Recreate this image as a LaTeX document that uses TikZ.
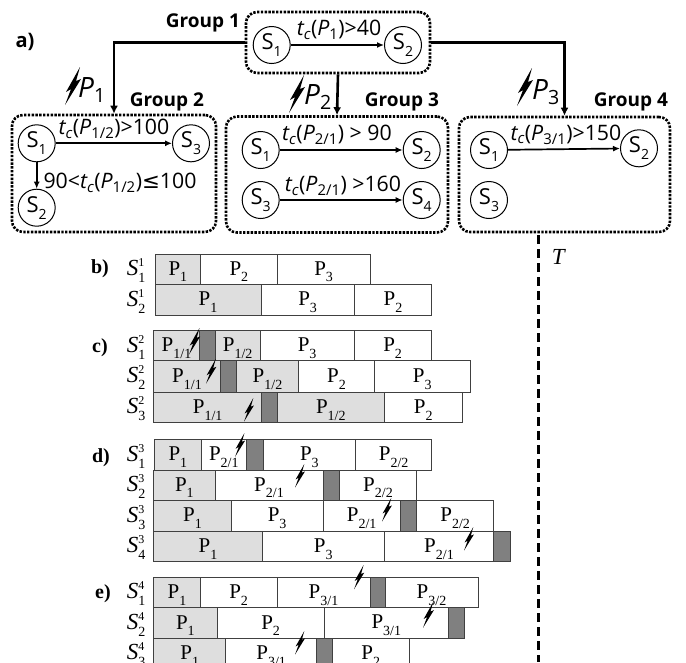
\documentclass[tikz,border=0pt]{standalone}
\usepackage{fontspec}
\setmainfont{Liberation Serif}
\newfontfamily\grpfont{Open Sans}
\newfontfamily\symfont{DejaVu Sans}
\usetikzlibrary{arrows.meta}
\newcommand{\tc}[1]{\textit{t\textsubscript{c}}(\textit{P}\textsubscript{#1})}
\newcommand{\sv}[1]{S\raisebox{-0.32em}{\fontsize{14}{14}\selectfont #1}}
\newcommand{\pr}[1]{P\raisebox{-0.32em}{\fontsize{14}{14}\selectfont #1}}
\newcommand{\srow}[2]{\textit{S}\rlap{\raisebox{0.4em}{\fontsize{12}{12}\selectfont #2}}\raisebox{-0.32em}{\fontsize{14}{14}\selectfont #1}}
\tikzset{
  groupbox/.style={draw,line width=2.6pt,dash pattern=on 2.4pt off 1.4pt,rounded corners=11pt},
  server/.style={draw,circle,line width=1pt,minimum size=37pt,inner sep=0pt,font=\grpfont\fontsize{22}{22}\selectfont},
  link/.style={line width=2.6pt,-{Latex[length=8pt,width=8pt]}},
  trans/.style={line width=1.7pt,-{Latex[length=7pt,width=6pt]}},
  cond/.style={inner sep=0pt,font=\grpfont\fontsize{21.3}{22}\selectfont},
  grouplab/.style={inner sep=0pt,font=\grpfont\bfseries\fontsize{19}{19}\selectfont},
  faultlab/.style={inner sep=0pt,font=\grpfont\itshape\fontsize{28}{29}\selectfont},
  seg/.style={draw=black!75,line width=0.8pt},
  done/.style={seg,fill=black!13},
  lost/.style={seg,fill=black!50},
  plab/.style={inner sep=0pt,yshift=-2.5pt,font=\fontsize{21}{21}\selectfont},
  rowlab/.style={inner sep=0pt,yshift=-1.5pt,font=\fontsize{23}{23}\selectfont},
  caselab/.style={inner sep=0pt,font=\bfseries\fontsize{20}{20}\selectfont},
  bolt/.pic={\fill (15,0) -- (1,25) -- (6,22) -- (0,38) -- (16,12) -- (11,14) -- cycle;}
}
\begin{document}
\begin{tikzpicture}[x=1pt,y=-1pt]
\useasboundingbox (0,0) rectangle (686,662);
\clip (0,0) rectangle (686,662);
% part a
\node[grouplab] (lgrp1) at (203,23) {Group 1};
\node[grouplab] (lgrp2) at (167,102) {Group 2};
\node[grouplab] (lgrp3) at (402,102) {Group 3};
\node[grouplab] (lgrp4) at (631,102) {Group 4};
\node[inner sep=0pt,font=\grpfont\bfseries\fontsize{20}{20}\selectfont] (la) at (25,42) {a)};
\node[groupbox,minimum width=184pt,minimum height=61pt] (grp1) at (338,42.5) {};
\node[groupbox,minimum width=204pt,minimum height=117pt] (grp2) at (114,173.5) {};
\node[groupbox,minimum width=222pt,minimum height=116pt] (grp3) at (337,174.5) {};
\node[groupbox,minimum width=211pt,minimum height=115pt] (grp4) at (564.5,174.5) {};
\node[server] (s11) at (271.7,45) {\sv{1}};
\node[server] (s12) at (403,45) {\sv{2}};
\node[server] (s21) at (36.7,143.3) {\sv{1}};
\node[server] (s23) at (191,143.3) {\sv{3}};
\node[server] (s22) at (36.7,207.7) {\sv{2}};
\node[server] (s31) at (260.7,150) {\sv{1}};
\node[server] (s33) at (260.7,200) {\sv{3}};
\node[server] (s32) at (421.7,150) {\sv{2}};
\node[server] (s34) at (421.7,200) {\sv{4}};
\node[server] (s41) at (489,150) {\sv{1}};
\node[server] (s43) at (489,200) {\sv{3}};
\node[server] (s42) at (639,148.3) {\sv{2}};
\draw[trans] (s11) -- (s12);
\draw[trans] (s21) -- (s23);
\draw[trans] (s21) -- (s22);
\draw[trans] (s31) -- (s32);
\draw[trans] (s33) -- (s34);
\draw[trans] (s41) -- (s42);
\draw[link] (grp1.west) -| (grp2.north);
\draw[link] (grp1.south) -- (grp3.north);
\draw[link] (grp1.east) -| (grp4.north);
\node[cond] (c1) at (339,30) {\tc{1}>40};
\node[cond] (c2) at (114,129) {\tc{1/2}>100};
\node[cond] (c3) at (120,183) {90<\tc{1/2}{\symfont ≤}100};
\node[cond] (c4) at (337,135) {\tc{2/1} > 90};
\node[cond] (c5) at (343,186) {\tc{2/1} >160};
\node[cond] (c6) at (566,135) {\tc{3/1}>150};
\node[faultlab] (f1) at (92,90) {P\textsubscript{\upshape 1}};
\node[faultlab] (f2) at (318,97) {P\textsubscript{\upshape 2}};
\node[faultlab] (f3) at (546,92) {P\textsubscript{\upshape 3}};
\pic at (65,67) {bolt};
\pic at (289,75) {bolt};
\pic at (517,68) {bolt};
% time axis
\draw[line width=3pt,dash pattern=on 9pt off 5pt] (538.3,235) -- (538.3,662);
\node[rowlab] (tlab) at (559,255) {\textit{T}};
% part b
\node[caselab] (lb) at (100,269) {b)};
\node[rowlab] (r11) at (136,269) {\srow{1}{1}};
\node[rowlab] (r12) at (136,300) {\srow{2}{1}};
\draw[done] (155,254) rectangle (200.7,284.3) node[midway,plab] (b11) {\pr{1}};
\draw[seg] (200.7,254) rectangle (277,284.3) node[midway,plab] (b12) {\pr{2}};
\draw[seg] (277,254) rectangle (370.3,284.3) node[midway,plab] (b13) {\pr{3}};
\draw[done] (155,284.3) rectangle (261,315.3) node[midway,plab] (b21) {\pr{1}};
\draw[seg] (261,284.3) rectangle (354.3,315.3) node[midway,plab] (b22) {\pr{3}};
\draw[seg] (354.3,284.3) rectangle (431.7,315.3) node[midway,plab] (b23) {\pr{2}};
% part c
\node[caselab] (lc) at (100,348) {c)};
\node[rowlab] (r21) at (136,346) {\srow{1}{2}};
\node[rowlab] (r22) at (136,376) {\srow{2}{2}};
\node[rowlab] (r23) at (136,407) {\srow{3}{2}};
\draw[done] (153.7,330.7) rectangle (199.3,360.7) node[midway,plab] (c11) {\pr{1/1}};
\draw[lost] (199.3,330.7) rectangle (215,360.7);
\draw[done] (215,330.7) rectangle (260.3,360.7) node[midway,plab] (c12) {\pr{1/2}};
\draw[seg] (260.3,330.7) rectangle (354,360.7) node[midway,plab] (c13) {\pr{3}};
\draw[seg] (354,330.7) rectangle (431.3,360.7) node[midway,plab] (c14) {\pr{2}};
\draw[done] (153.7,360.7) rectangle (220.3,392) node[midway,plab] (c21) {\pr{1/1}};
\draw[lost] (220.3,360.7) rectangle (236.3,392);
\draw[done] (236.3,360.7) rectangle (298.7,392) node[midway,plab] (c22) {\pr{1/2}};
\draw[seg] (298.7,360.7) rectangle (374.3,392) node[midway,plab] (c23) {\pr{2}};
\draw[seg] (374.3,360.7) rectangle (470.3,392) node[midway,plab] (c24) {\pr{3}};
\draw[done] (153.7,392) rectangle (261.7,422.7) node[midway,plab] (c31) {\pr{1/1}};
\draw[lost] (261.7,392) rectangle (277.3,422.7);
\draw[done] (277.3,392) rectangle (384.3,422.7) node[midway,plab] (c32) {\pr{1/2}};
\draw[seg] (384.3,392) rectangle (462.3,422.7) node[midway,plab] (c33) {\pr{2}};
\pic[scale=.7] at (189,328) {bolt};
\pic[scale=.65] at (206,359) {bolt};
\pic[scale=.62] at (244,398) {bolt};
% part d
\node[caselab] (ld) at (101,458) {d)};
\node[rowlab] (r31) at (136,455) {\srow{1}{3}};
\node[rowlab] (r32) at (136,485) {\srow{2}{3}};
\node[rowlab] (r33) at (136,516) {\srow{3}{3}};
\node[rowlab] (r34) at (136,546) {\srow{4}{3}};
\draw[done] (154.7,439.7) rectangle (201,470) node[midway,plab] (d11) {\pr{1}};
\draw[seg] (201,439.7) rectangle (246.7,470) node[midway,plab] (d12) {\pr{2/1}};
\draw[lost] (246.7,439.7) rectangle (263,470);
\draw[seg] (263,439.7) rectangle (355.7,470) node[midway,plab] (d13) {\pr{3}};
\draw[seg] (355.7,439.7) rectangle (431.7,470) node[midway,plab] (d14) {\pr{2/2}};
\draw[done] (153.7,470) rectangle (215,500.3) node[midway,plab] (d21) {\pr{1}};
\draw[seg] (215,470) rectangle (323,500.3) node[midway,plab] (d22) {\pr{2/1}};
\draw[lost] (323,470) rectangle (339.3,500.3);
\draw[seg] (339.3,470) rectangle (416.7,500.3) node[midway,plab] (d23) {\pr{2/2}};
\draw[done] (153.7,500.3) rectangle (231.3,531) node[midway,plab] (d31) {\pr{1}};
\draw[seg] (231.3,500.3) rectangle (323,531) node[midway,plab] (d32) {\pr{3}};
\draw[seg] (323,500.3) rectangle (400.3,531) node[midway,plab] (d33) {\pr{2/1}};
\draw[lost] (400.3,500.3) rectangle (416.7,531);
\draw[seg] (416.7,500.3) rectangle (493.7,531) node[midway,plab] (d34) {\pr{2/2}};
\draw[done] (153.7,531) rectangle (262.3,561.7) node[midway,plab] (d41) {\pr{1}};
\draw[seg] (262.3,531) rectangle (384.3,561.7) node[midway,plab] (d42) {\pr{3}};
\draw[seg] (384.3,531) rectangle (493.7,561.7) node[midway,plab] (d43) {\pr{2/1}};
\draw[lost] (493.7,531) rectangle (510,561.7);
\pic[scale=.63] at (235,433) {bolt};
\pic[scale=.62] at (295,464) {bolt};
\pic[scale=.62] at (382,498) {bolt};
\pic[scale=.62] at (464,527) {bolt};
% part e
\node[caselab] (le) at (103,594) {e)};
\node[rowlab] (r41) at (136,592) {\srow{1}{4}};
\node[rowlab] (r42) at (136,623) {\srow{2}{4}};
\node[rowlab] (r43) at (136,653) {\srow{3}{4}};
\draw[done] (153.7,577.3) rectangle (200.3,607.7) node[midway,plab] (e11) {\pr{1}};
\draw[seg] (200.3,577.3) rectangle (277,607.7) node[midway,plab] (e12) {\pr{2}};
\draw[seg] (277,577.3) rectangle (370,607.7) node[midway,plab] (e13) {\pr{3/1}};
\draw[lost] (370,577.3) rectangle (385,607.7);
\draw[seg] (385,577.3) rectangle (478,607.7) node[midway,plab] (e14) {\pr{3/2}};
\draw[done] (153.7,607.7) rectangle (217,638.3) node[midway,plab] (e21) {\pr{1}};
\draw[seg] (217,607.7) rectangle (324.3,638.3) node[midway,plab] (e22) {\pr{2}};
\draw[seg] (324.3,607.7) rectangle (448.3,638.3) node[midway,plab] (e23) {\pr{3/1}};
\draw[lost] (448.3,607.7) rectangle (464.3,638.3);
\draw[done] (153.7,638.3) rectangle (225.7,669) node[midway,plab] (e31) {\pr{1}};
\draw[seg] (225.7,638.3) rectangle (316.7,669) node[midway,plab] (e32) {\pr{3/1}};
\draw[lost] (316.7,638.3) rectangle (332.3,669);
\draw[seg] (332.3,638.3) rectangle (409.3,669) node[midway,plab] (e33) {\pr{2}};
\pic[scale=.64] at (354,565) {bolt};
\pic[scale=.68] at (423,602) {bolt};
\pic[scale=.62] at (295,631) {bolt};
\end{tikzpicture}
\end{document}
